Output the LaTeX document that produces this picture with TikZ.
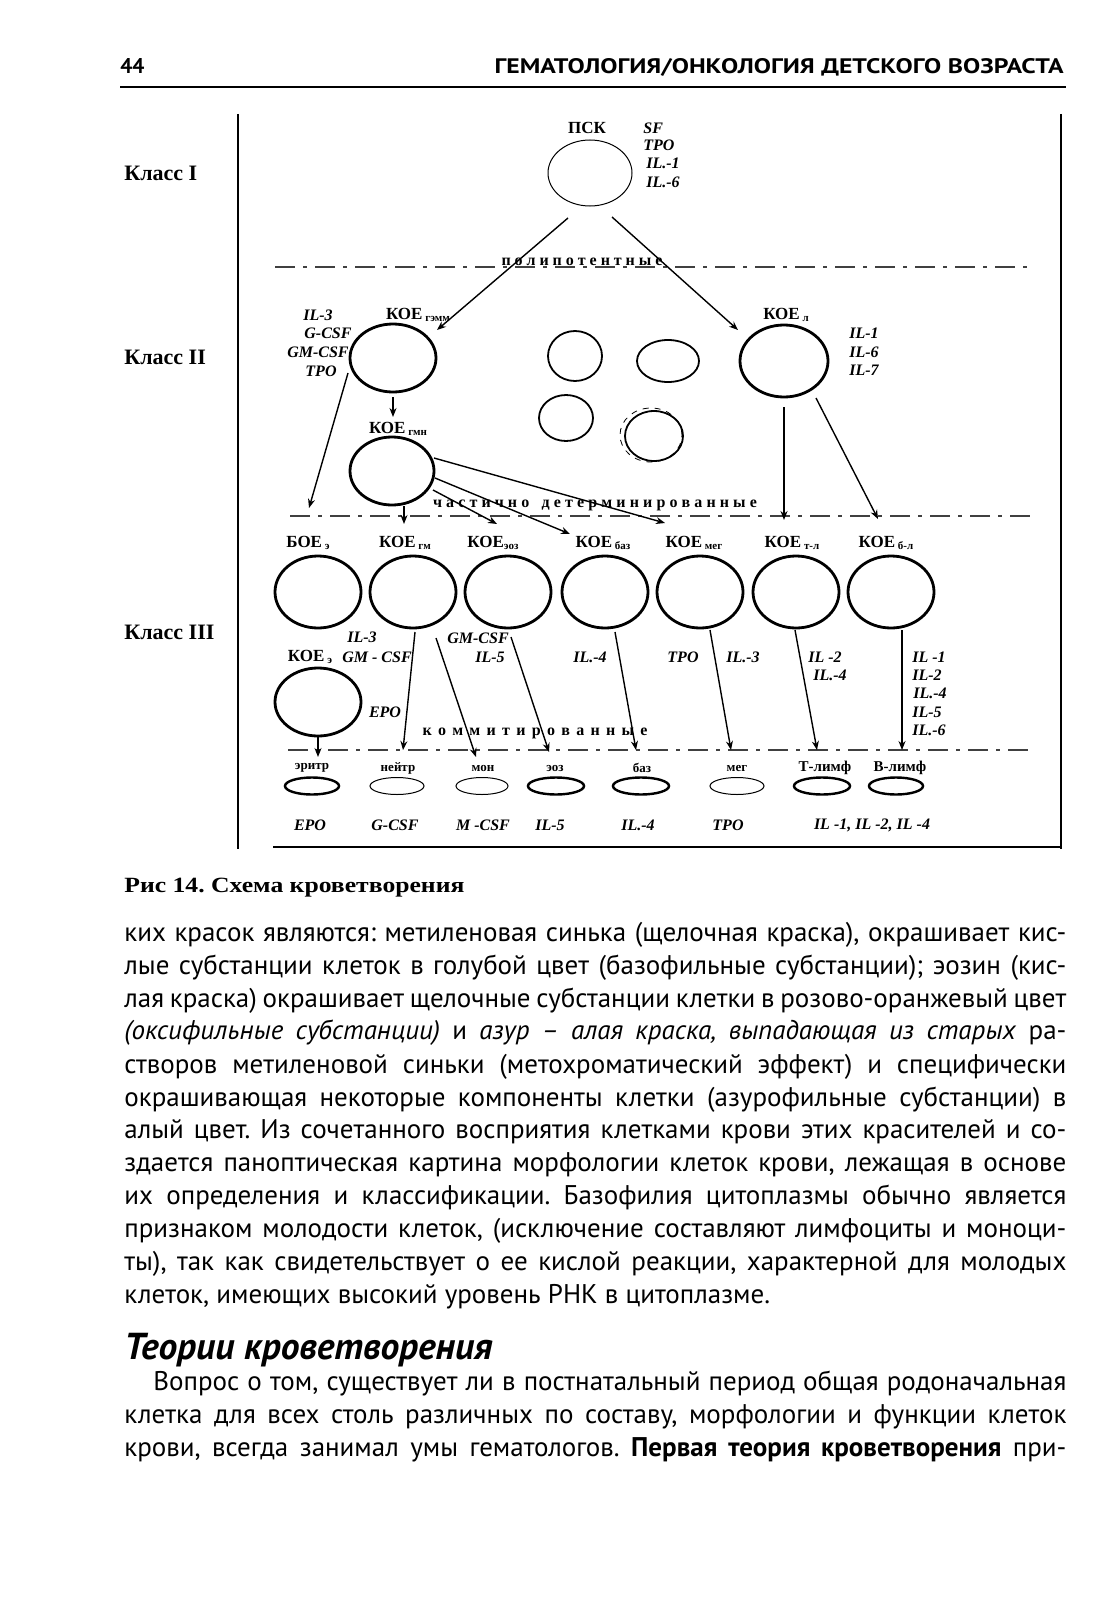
\documentclass[tikz,border=0pt]{standalone}
\usepackage{fontspec}
\setmainfont{Liberation Serif}
\newfontfamily\bodyfont{PT Sans}
\usetikzlibrary{shapes.geometric,arrows.meta,calc}
\newcommand\lsub[1]{\raisebox{-1.2pt}{\fontsize{5.5}{6}\selectfont #1}}
\newcommand\jline[2]{\makebox[#1][s]{#2}}
\frenchspacing
\begin{document}
\begin{tikzpicture}[x=0.5pt,y=-0.5pt,
  cell/.style={ellipse, draw, line width=1.4pt, inner sep=0pt, outer sep=0pt},
  thincell/.style={ellipse, draw, line width=0.5pt, inner sep=0pt, outer sep=0pt},
  sz/.style 2 args={minimum width=#1pt, minimum height=#2pt},
  conn/.style={line width=0.7pt, -{Stealth[length=4.5pt,width=3.5pt]}},
  lab/.style={font=\fontsize{8}{9}\selectfont\bfseries\itshape, inner sep=0pt},
  koe/.style={font=\fontsize{8.5}{10}\selectfont\bfseries, inner sep=0pt},
  small/.style={font=\fontsize{6.5}{7}\selectfont\bfseries, inner sep=0pt},
  klass/.style={font=\fontsize{11}{12}\selectfont\bfseries, inner sep=0pt, anchor=west},
  spaced/.style={font=\fontsize{8}{9}\selectfont\bfseries, inner sep=0pt},
  sepline/.style={line width=0.6pt, black!75, dash pattern=on 10pt off 4pt on 2pt off 4pt},
  body/.style={anchor=base west, inner sep=0pt, font=\bodyfont\fontsize{13.5}{16}\selectfont}]
\fill[white] (0,0) rectangle (1117,1600);
\useasboundingbox (0,0) rectangle (1117,1600);

% header
\node[anchor=base west, inner sep=0pt] (pg) at (120,74) {\resizebox{!}{7.5pt}{\bodyfont\bfseries 44}};
\node[anchor=base east, inner sep=0pt] (hd) at (1064,74) {\resizebox{284.5pt}{7.5pt}{\bodyfont\bfseries ГЕМАТОЛОГИЯ/ОНКОЛОГИЯ ДЕТСКОГО ВОЗРАСТА}};
\draw[line width=1pt] (120,87) -- (1066,87);

% frame
\draw[line width=0.8pt] (238,114) -- (238,849);
\draw[line width=1pt] (1061,114) -- (1061,849);
\draw[line width=1pt] (273,847) -- (1061,847);

% class labels
\node[klass] (k1) at (124,173) {Класс I};
\node[klass] (k2) at (124,357) {Класс II};
\node[klass] (k3) at (124,632) {Класс III};

% separator lines
\draw[sepline] (275,267) -- (1030,267);
\draw[sepline] (290,516) -- (1030,516);
\draw[sepline] (288,750) -- (1030,750);
\node[spaced] (sp1) at (582,262) {\makebox[80.5pt][s]{п\hfill о\hfill л\hfill и\hfill п\hfill о\hfill т\hfill е\hfill н\hfill т\hfill н\hfill ы\hfill е}};
\node[spaced] (sp2) at (595,505) {\makebox[162pt][s]{ч\hfill а\hfill с\hfill т\hfill и\hfill ч\hfill н\hfill о\hfill\hfill\hfill д\hfill е\hfill т\hfill е\hfill р\hfill м\hfill и\hfill н\hfill и\hfill р\hfill о\hfill в\hfill а\hfill н\hfill н\hfill ы\hfill е}};
\node[spaced] (sp3) at (535,733) {\makebox[112.5pt][s]{к\hfill о\hfill м\hfill м\hfill и\hfill т\hfill и\hfill р\hfill о\hfill в\hfill а\hfill н\hfill н\hfill ы\hfill е}};

% class I
\node[thincell, sz={42}{33}] (psk) at (590,173) {};
\node[koe] (pskl) at (587,128) {ПСК};
\node[lab, anchor=west] (sf) at (643,128) {SF};
\node[lab, anchor=west] (tpo0) at (643,145) {TPO};
\node[lab, anchor=west] (il01) at (646,163) {IL.-1};
\node[lab, anchor=west] (il06) at (646,182) {IL.-6};

% class II
\node[cell, sz={43}{34}] (gemm) at (393,358) {};
\node[koe] (gemml) at (418,315) {КОЕ\,\lsub{гэмм}};
\node[lab] (g1) at (318,315) {IL-3};
\node[lab] (g2) at (328,333) {G-CSF};
\node[lab] (g3) at (318,352) {GM-CSF};
\node[lab] (g4) at (321,371) {TPO};
\node[cell, sz={42}{34}] (gmn) at (392,471) {};
\node[koe] (gmnl) at (398,429) {КОЕ\,\lsub{гмн}};
\node[cell, sz={44}{36}] (lc) at (784,361) {};
\node[koe] (lcl) at (786,315) {КОЕ\,\lsub{л}};
\node[lab, anchor=west] (l1) at (849,333) {IL-1};
\node[lab, anchor=west] (l2) at (849,352) {IL-6};
\node[lab, anchor=west] (l3) at (849,370) {IL-7};
\node[thincell, line width=0.9pt, sz={27}{25}] (m1) at (575,356) {};
\node[thincell, line width=0.9pt, sz={31}{21}] (m2) at (668,361) {};
\node[thincell, line width=0.9pt, sz={27}{23}] (m3) at (566,418) {};
\node[thincell, line width=0.9pt, sz={29}{25}] (m4) at (654,436) {};
\draw[dashed, line width=0.4pt] ($(m4)+(-3,-1)$) ellipse [x radius=15.5pt, y radius=13.5pt];

% class III
\foreach \n/\x in {c1/318,c2/413,c3/508,c4/605,c5/700,c6/796,c7/891}
  \node[cell, sz={43}{36}] (\n) at (\x,592) {};
\node[koe] (c1l) at (308,543) {БОЕ\,\lsub{э}};
\node[koe] (c2l) at (405,543) {КОЕ\,\lsub{гм}};
\node[koe] (c3l) at (493,543) {КОЕ\lsub{эоз}};
\node[koe] (c4l) at (603,543) {КОЕ\,\lsub{баз}};
\node[koe] (c5l) at (694,543) {КОЕ\,\lsub{мег}};
\node[koe] (c6l) at (792,543) {КОЕ\,\lsub{т-л}};
\node[koe] (c7l) at (886,543) {КОЕ\,\lsub{б-л}};
\node[cell, sz={43}{34}] (koee) at (318,702) {};
\node[koe] (koeel) at (310,657) {КОЕ\,\lsub{э}};
\node[lab] (b1) at (362,637) {IL-3};
\node[lab] (b2) at (377,657) {GM - CSF};
\node[lab] (b3) at (385,712) {EPO};
\node[lab] (b4) at (478,638) {GM-CSF};
\node[lab] (b5) at (490,657) {IL-5};
\node[lab] (b6) at (590,657) {IL.-4};
\node[lab] (b7) at (683,657) {TPO};
\node[lab] (b8) at (743,657) {IL.-3};
\node[lab] (b9) at (825,657) {IL -2};
\node[lab] (b10) at (830,675) {IL.-4};
\node[lab, anchor=west] (b11) at (912,657) {IL -1};
\node[lab, anchor=west] (b12) at (912,675) {IL-2};
\node[lab, anchor=west] (b13) at (913,693) {IL.-4};
\node[lab, anchor=west] (b14) at (912,712) {IL-5};
\node[lab, anchor=west] (b15) at (912,730) {IL.-6};

% mature cells
\node[cell, line width=1.2pt, sz={27}{8.5}] (er) at (312,786) {};
\node[thincell, sz={27}{8.5}] (ne) at (397,786) {};
\node[thincell, sz={26}{8.5}] (mo) at (482,786) {};
\node[cell, line width=1.2pt, sz={28}{8.5}] (eo) at (556,786) {};
\node[cell, line width=1.2pt, sz={28}{8.5}] (ba) at (641,786) {};
\node[thincell, sz={27}{8.5}] (me) at (737,786) {};
\node[cell, line width=1.2pt, sz={28}{8.5}] (tl) at (822,786) {};
\node[cell, line width=1.2pt, sz={27}{8.5}] (bl) at (896,786) {};
\node[small] (erl) at (312,768) {эритр};
\node[small] (nel) at (398,768) {нейтр};
\node[small] (mol) at (483,768) {мон};
\node[small] (eol) at (555,768) {эоз};
\node[small] (bal) at (642,768) {баз};
\node[small] (mel) at (737,768) {мег};
\node[small, font=\fontsize{7.5}{8}\selectfont\bfseries] (tll) at (825,768) {Т-лимф};
\node[small, font=\fontsize{7.5}{8}\selectfont\bfseries] (bll) at (900,768) {В-лимф};
\node[lab] (e1) at (310,825) {EPO};
\node[lab] (e2) at (395,825) {G-CSF};
\node[lab] (e3) at (483,825) {M -CSF};
\node[lab] (e4) at (550,825) {IL-5};
\node[lab] (e5) at (638,825) {IL.-4};
\node[lab] (e6) at (728,825) {TPO};
\node[lab] (e7) at (872,825) {IL -1, IL -2, IL -4};

% connectors
\draw[conn] ($(psk)+(-22,45)$) -- ($(gemm)+(44,-28)$);
\draw[conn] ($(psk)+(22,44)$) -- ($(lc)+(-46,-31)$);
\draw[conn] ($(gemm)+(0,39)$) -- ($(gmn)+(1,-54)$);
\draw[conn] ($(gemm)+(-45,15)$) -- ($(c1)+(-9,-84)$);
\draw[conn] ($(gmn)+(12,35)$) -- ($(c2)+(-9,-68)$);
\draw[conn] ($(gmn)+(41,19)$) -- ($(c3)+(-11,-68)$);
\draw[conn] ($(gmn)+(43,7)$) -- ($(c4)+(-35,-58)$);
\draw[conn] ($(gmn)+(42,-13)$) -- ($(c5)+(-35,-69)$);
\draw[conn, line width=1.2pt] ($(lc)+(0,46)$) -- ($(c6)+(-12,-72)$);
\draw[conn] ($(lc)+(32,37)$) -- ($(c7)+(-13,-73)$);
\draw[conn] ($(c2)+(2,40)$) -- ($(ne)+(6,-36)$);
\draw[conn] ($(c2)+(23,46)$) -- ($(mo)+(-6,-29)$);
\draw[conn] ($(c3)+(3,45)$) -- ($(eo)+(-7,-34)$);
\draw[conn] ($(c4)+(10,40)$) -- ($(ba)+(-5,-36)$);
\draw[conn] ($(c5)+(10,38)$) -- ($(me)+(-6,-36)$);
\draw[conn] ($(c6)+(-1,38)$) -- ($(tl)+(-5,-36)$);
\draw[conn] ($(c7)+(11,38)$) -- ($(bl)+(6,-36)$);
\draw[conn] ($(koee)+(0,35)$) -- ($(er)+(6,-29)$);

% caption
\node[anchor=base west, inner sep=0pt] (cap) at (124,892) {\resizebox{170pt}{7.2pt}{\bfseries Рис 14. Схема кроветворения}};

% body text
\node[body] (t1) at (124,941) {\jline{471pt}{ких красок являются: метиленовая синька (щелочная краска), окрашивает кис-}};
\node[body] (t2) at (124,974) {\jline{471pt}{лые субстанции клеток в голубой цвет (базофильные субстанции); эозин (кис-}};
\node[body] (t3) at (124,1007) {\jline{471pt}{лая краска) окрашивает щелочные субстанции клетки в розово-оранжевый цвет}};
\node[body] (t4) at (124,1039) {\jline{471pt}{\textit{(оксифильные субстанции)} и \textit{азур – алая краска, выпадающая из старых} ра-}};
\node[body] (t5) at (124,1073) {\jline{471pt}{створов метиленовой синьки (метохроматический эффект) и специфически}};
\node[body] (t6) at (124,1106) {\jline{471pt}{окрашивающая некоторые компоненты клетки (азурофильные субстанции) в}};
\node[body] (t7) at (124,1138) {\jline{471pt}{алый цвет. Из сочетанного восприятия клетками крови этих красителей и со-}};
\node[body] (t8) at (124,1171) {\jline{471pt}{здается паноптическая картина морфологии клеток крови, лежащая в основе}};
\node[body] (t9) at (124,1204) {\jline{471pt}{их определения и классификации. Базофилия цитоплазмы обычно является}};
\node[body] (t10) at (124,1237) {\jline{471pt}{признаком молодости клеток, (исключение составляют лимфоциты и моноци-}};
\node[body] (t11) at (124,1270) {\jline{471pt}{ты), так как свидетельствует о ее кислой реакции, характерной для молодых}};
\node[body] (t12) at (124,1303) {клеток, имеющих высокий уровень РНК в цитоплазме.};
\node[anchor=base west, inner sep=0pt] (h2) at (124,1359) {\resizebox{184pt}{!}{\bodyfont\bfseries\itshape Теории кроветворения}};
\node[body] (t13) at (153,1390) {\jline{456.5pt}{Вопрос о том, существует ли в постнатальный период общая родоначальная}};
\node[body] (t14) at (124,1423) {\jline{471pt}{клетка для всех столь различных по составу, морфологии и функции клеток}};
\node[body] (t15) at (124,1456) {\jline{471pt}{крови, всегда занимал умы гематологов. \textbf{Первая теория кроветворения} при-}};
\end{tikzpicture}
\end{document}
